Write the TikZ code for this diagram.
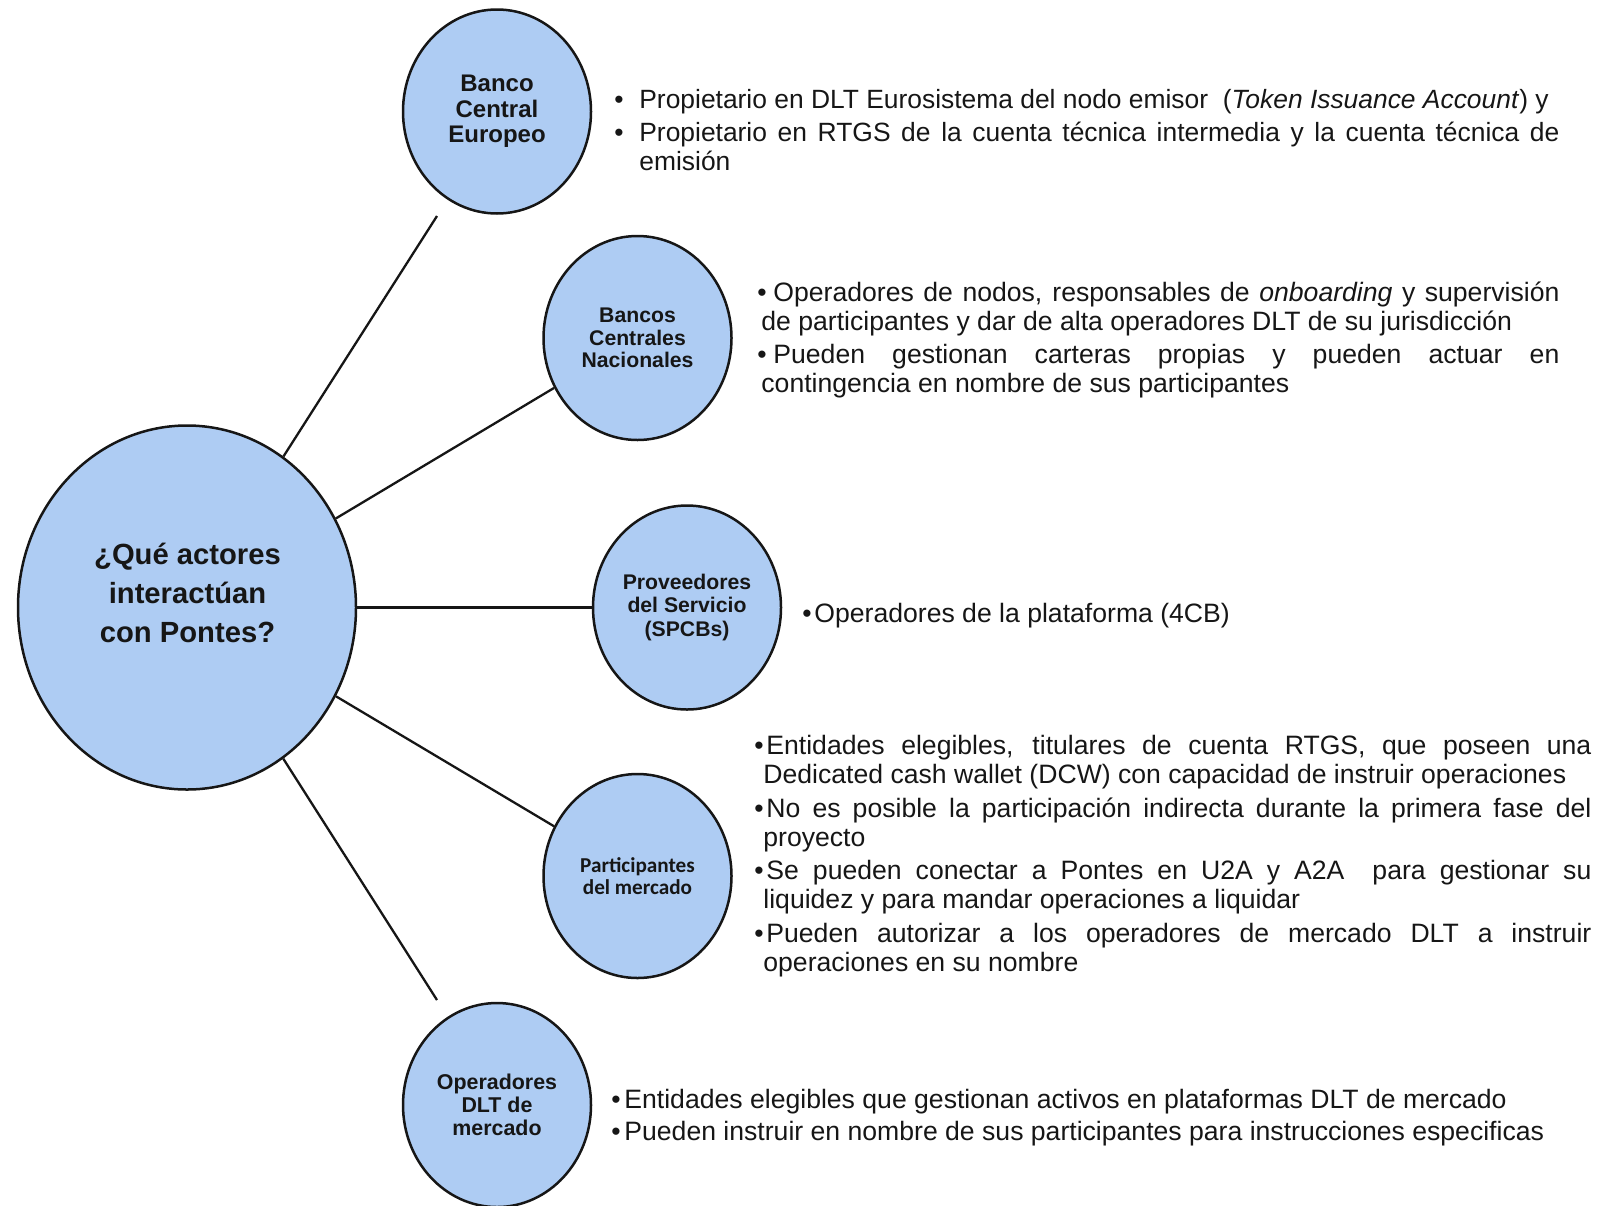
\documentclass[tikz,border=0pt]{standalone}
\usepackage{fontspec}
\setmainfont{Liberation Sans}
\newfontfamily\calfont{Carlito}
\usetikzlibrary{shapes.geometric}
\definecolor{fillblue}{RGB}{174,204,243}
\definecolor{ink}{RGB}{22,22,22}
\newcommand{\bpar}[3]{\noindent\hangindent=#2\hangafter=1\makebox[#1][l]{\textbullet}#3\par}
\tikzset{
  actor/.style={ellipse, draw=ink, line width=1.25pt, fill=fillblue, inner sep=0pt,
    minimum width=94pt, minimum height=102pt, align=center, text=ink},
  conn/.style={draw=ink, line width=1.15pt},
  txt/.style={anchor=base west, inner sep=0pt, text=ink, align=justify},
  txtline/.style={anchor=base west, inner sep=0pt, text=ink, align=left,
    font=\fontsize{13.3}{14.5}\selectfont},
}
\begin{document}
\begin{tikzpicture}[x=0.5pt, y=-0.5pt]
\useasboundingbox (0,0) rectangle (1598,1205);
% central node
\node[actor, minimum width=169pt, minimum height=182pt] (c) at (187,607.5) {};
\node[inner sep=0pt, text=ink, align=center, font=\fontsize{14.6}{19.4}\selectfont\bfseries] (ct) at (187.5,593) {¿Qué actores\\interactúan\\con Pontes?};
% actor nodes
\node[actor, font=\fontsize{12}{12.75}\selectfont\bfseries] (bce) at (497,111.5) {Banco\\Central\\Europeo};
\node[actor, font=\fontsize{10.6}{11.2}\selectfont\bfseries] (bcn) at (637.5,338) {Bancos\\Centrales\\Nacionales};
\node[actor, font=\fontsize{10.6}{11.7}\selectfont\bfseries] (prov) at (687,607.5) {Proveedores\\del Servicio\\(SPCBs)};
\node[actor, font=\calfont\fontsize{10.6}{11.2}\selectfont\bfseries] (part) at (637.5,876) {Participantes\\del mercado};
\node[actor, font=\fontsize{10.7}{11.45}\selectfont\bfseries] (oper) at (497,1105) {Operadores\\DLT de\\mercado};
% connectors
\coordinate (t1) at (437,216);
\coordinate (t2) at (437,1000);
\draw[conn] (c) -- (t1);
\draw[conn] (c) -- (bcn);
\draw[conn] (c) -- (prov);
\draw[conn] (c) -- (part);
\draw[conn] (c) -- (t2);
% text blocks
\node[txt, text width=472.5pt, font=\fontsize{13.2}{14.75}\selectfont] (d1) at (614,108.5) {\setlength{\parskip}{1.5pt}\tolerance=10000 %
\bpar{12.5pt}{12.5pt}{\mbox{Propietario en DLT Eurosistema del nodo emisor\ \ (\textit{Token Issuance Account}) y}}%
\bpar{12.5pt}{12.5pt}{Propietario en RTGS de la cuenta técnica intermedia y la cuenta técnica de\linebreak emisión}};
\node[txt, text width=401pt, font=\fontsize{13.3}{14.5}\selectfont] (d2) at (757,301) {\setlength{\parskip}{2.25pt}\tolerance=10000 %
\bpar{8pt}{2pt}{Operadores de nodos, responsables de \textit{onboarding} y supervisión\linebreak de participantes y dar de alta operadores DLT de su jurisdicción}%
\bpar{8pt}{2pt}{Pueden gestionan carteras propias y pueden actuar en\linebreak contingencia en nombre de sus participantes}};
\node[txtline] (d3) at (802,622) {\makebox[6pt][l]{\textbullet}Operadores de la plataforma (4CB)};
\node[txt, text width=418.5pt, font=\fontsize{13.3}{14.5}\selectfont] (d4) at (754,754.5) {\setlength{\parskip}{2.25pt}\tolerance=10000 %
\bpar{6pt}{4.5pt}{Entidades elegibles, titulares de cuenta RTGS, que poseen una\linebreak Dedicated cash wallet (DCW) con capacidad de instruir operaciones}%
\bpar{6pt}{4.5pt}{No es posible la participación indirecta durante la primera fase del\linebreak proyecto}%
\bpar{6pt}{4.5pt}{Se pueden conectar a Pontes en U2A y A2A\ \ para gestionar su\linebreak liquidez y para mandar operaciones a liquidar}%
\bpar{6pt}{4.5pt}{Pueden autorizar a los operadores de mercado DLT a instruir\linebreak operaciones en su nombre}};
\node[txtline] (d5) at (611,1140.5) {\makebox[6.5pt][l]{\textbullet}Entidades elegibles que gestionan activos en plataformas DLT de mercado\\[1.75pt]\makebox[6.5pt][l]{\textbullet}Pueden instruir en nombre de sus participantes para instrucciones especificas};
\end{tikzpicture}
\end{document}
